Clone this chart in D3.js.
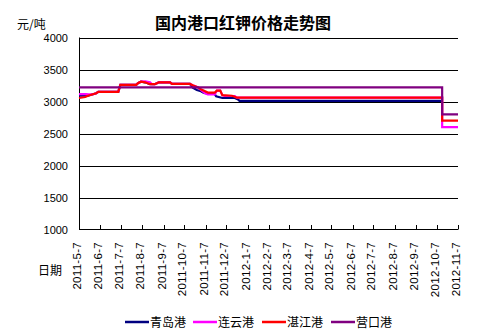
<!DOCTYPE html>
<html>
<head>
<meta charset="utf-8">
<script src="https://cdn.jsdelivr.net/npm/d3@7/dist/d3.min.js"></script>
<style>
  html, body { margin: 0; padding: 0; background: #fff; }
  svg { display: block; }
  text { font-family: "Liberation Sans", Arial, sans-serif; fill: #000; }
  .cjk { font-family: "Noto Sans CJK SC", sans-serif; }
</style>
</head>
<body>
<svg id="chart" width="486" height="334"></svg>
<script>
// Monthly tick dates on the x axis
const tickDates = ["2011-5-7","2011-6-7","2011-7-7","2011-8-7","2011-9-7","2011-10-7",
  "2011-11-7","2011-12-7","2012-1-7","2012-2-7","2012-3-7","2012-4-7","2012-5-7",
  "2012-6-7","2012-7-7","2012-8-7","2012-9-7","2012-10-7","2012-11-7"];
const yTicks = [1000, 1500, 2000, 2500, 3000, 3500, 4000];

// Price series (元/吨), as [date, price] step points
const qingdao = [
  ["2011-5-7",3090],["2011-5-17",3090],["2011-5-20",3090],["2011-5-26",3110],["2011-6-1",3130],
  ["2011-6-4",3150],["2011-7-3",3150],["2011-7-6",3260],["2011-7-29",3260],["2011-8-1",3290],
  ["2011-8-5",3310],["2011-8-11",3300],["2011-8-18",3270],["2011-8-25",3270],["2011-8-28",3285],
  ["2011-8-31",3300],["2011-9-16",3300],["2011-9-19",3275],["2011-10-15",3275],["2011-10-19",3215],
  ["2011-10-25",3180],["2011-10-31",3160],["2011-11-3",3140],["2011-11-6",3130],["2011-11-19",3130],
  ["2011-11-22",3080],["2011-12-1",3055],["2011-12-19",3055],["2011-12-24",3030],["2011-12-26",3010],
  ["2012-10-15",3010]
];
const lianyungang = [
  ["2011-5-7",3115],["2011-5-17",3115],["2011-5-21",3110],["2011-5-26",3110],["2011-6-1",3130],
  ["2011-6-4",3150],["2011-7-3",3150],["2011-7-6",3260],["2011-7-29",3260],["2011-8-1",3290],
  ["2011-8-5",3310],["2011-8-11",3315],["2011-8-18",3300],["2011-8-21",3270],["2011-8-25",3270],
  ["2011-8-28",3285],["2011-8-31",3300],["2011-9-16",3300],["2011-9-19",3275],["2011-10-15",3275],
  ["2011-10-19",3255],["2011-10-27",3220],["2011-10-31",3180],["2011-11-6",3130],["2011-11-10",3110],
  ["2011-11-20",3110],["2011-11-23",3170],["2011-11-28",3170],["2011-12-1",3100],["2011-12-4",3086],
  ["2011-12-19",3086],["2011-12-22",3060],["2012-10-15",3060],["2012-10-15",2600],["2012-11-7",2600]
];
const zhanjiang = [
  ["2011-5-7",3055],["2011-5-16",3070],["2011-5-20",3090],["2011-5-26",3110],["2011-6-1",3130],
  ["2011-6-4",3150],["2011-7-3",3150],["2011-7-6",3260],["2011-7-29",3260],["2011-8-1",3290],
  ["2011-8-5",3310],["2011-8-11",3300],["2011-8-18",3270],["2011-8-25",3270],["2011-8-28",3285],
  ["2011-8-31",3300],["2011-9-16",3300],["2011-9-19",3275],["2011-10-15",3275],["2011-10-19",3255],
  ["2011-10-27",3220],["2011-10-31",3190],["2011-11-6",3160],["2011-11-10",3140],["2011-11-20",3140],
  ["2011-11-23",3170],["2011-11-28",3170],["2011-12-1",3100],["2011-12-15",3090],["2011-12-19",3075],
  ["2011-12-22",3060],["2012-10-15",3060],["2012-10-15",2700],["2012-11-7",2700]
];
const yingkou = [
  ["2011-5-7",3220],["2012-10-15",3220],["2012-10-15",2800],["2012-11-7",2800]
];

const seriesNames = ["青岛港","连云港","湛江港","营口港"];
const seriesColors = ["#000080","#FF00FF","#FF0000","#800080"];
const seriesData = [qingdao, lianyungang, zhanjiang, yingkou];

const parse = d3.timeParse("%Y-%m-%d");
const svg = d3.select("#chart");

const x = d3.scaleTime()
  .domain([parse("2011-05-07"), parse("2012-11-07")])
  .range([79, 458]);
const y = d3.scaleLinear().domain([1000, 4000]).range([229.5, 37.5]);

const toDate = s => {
  const p = s.split("-");
  return new Date(+p[0], +p[1] - 1, +p[2]);
};

// Horizontal gridlines
svg.append("g").selectAll("line")
  .data(yTicks.filter(v => v > 1000))
  .join("line")
  .attr("x1", 79).attr("x2", 458)
  .attr("y1", d => Math.round(y(d)) + 0.5).attr("y2", d => Math.round(y(d)) + 0.5)
  .attr("stroke", "#000").attr("stroke-width", 1);

// Y axis labels
svg.append("g").selectAll("text")
  .data(yTicks)
  .join("text")
  .attr("x", 68).attr("y", d => y(d) + 4)
  .attr("text-anchor", "end")
  .attr("font-size", "11px")
  .text(d => d);

// Left axis and bottom axis lines
svg.append("line").attr("x1", 79.5).attr("x2", 79.5).attr("y1", 37.5).attr("y2", 230)
  .attr("stroke", "#000");
svg.append("line").attr("x1", 79).attr("x2", 458).attr("y1", 229.5).attr("y2", 229.5)
  .attr("stroke", "#000");

// X ticks and rotated date labels
const tickG = svg.append("g").selectAll("g")
  .data(tickDates)
  .join("g")
  .attr("transform", d => `translate(${Math.round(x(toDate(d)))},0)`);
tickG.append("line")
  .attr("x1", 0.5).attr("x2", 0.5).attr("y1", 225).attr("y2", 229.5)
  .attr("stroke", "#000");
tickG.append("text")
  .attr("transform", "translate(-2,242) rotate(-90)")
  .attr("text-anchor", "end")
  .attr("dy", "0.35em")
  .attr("font-size", "11.5px")
  .attr("letter-spacing", "0.3px")
  .text(d => d);

// Series lines
const line = d3.line()
  .x(d => x(d.date))
  .y(d => y(d.value));
seriesData.forEach((s, i) => {
  const pts = s.map(([dt, v]) => ({ date: toDate(dt), value: v }));
  svg.append("path")
    .datum(pts)
    .attr("d", line)
    .attr("fill", "none")
    .attr("stroke", seriesColors[i])
    .attr("stroke-width", 2.2)
    .attr("stroke-linejoin", "miter");
});

// Title and axis captions
svg.append("text").attr("class", "cjk")
  .attr("x", 243).attr("y", 29).attr("text-anchor", "middle")
  .attr("font-size", "16px").attr("font-weight", "bold")
  .text("国内港口红钾价格走势图");
svg.append("text").attr("class", "cjk")
  .attr("x", 17).attr("y", 29).attr("font-size", "12px")
  .text("元/吨");
svg.append("text").attr("class", "cjk")
  .attr("x", 38).attr("y", 275).attr("font-size", "12px")
  .text("日期");

// Legend
const legendX = [125, 193, 262, 331];
const lg = svg.append("g").selectAll("g")
  .data(seriesNames)
  .join("g")
  .attr("transform", (d, i) => `translate(${legendX[i]},322)`);
lg.append("line")
  .attr("x1", 0).attr("x2", 24).attr("y1", 0).attr("y2", 0)
  .attr("stroke", (d, i) => seriesColors[i]).attr("stroke-width", 2.5);
lg.append("text").attr("class", "cjk")
  .attr("x", 25).attr("y", 4.5).attr("font-size", "12px")
  .text(d => d);
</script>
</body>
</html>
